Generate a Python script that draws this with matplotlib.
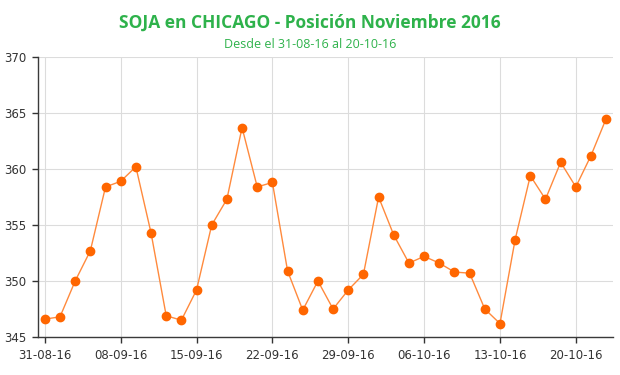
import numpy as np
import matplotlib
matplotlib.use("Agg")
import matplotlib.pyplot as plt

# trading days shown on the category axis
DATES = ["31-08-16", "01-09-16", "02-09-16", "06-09-16", "07-09-16",
         "08-09-16", "09-09-16", "12-09-16", "13-09-16", "14-09-16",
         "15-09-16", "16-09-16", "19-09-16", "20-09-16", "21-09-16",
         "22-09-16", "23-09-16", "26-09-16", "27-09-16", "28-09-16",
         "29-09-16", "30-09-16", "03-10-16", "04-10-16", "05-10-16",
         "06-10-16", "07-10-16", "10-10-16", "11-10-16", "12-10-16",
         "13-10-16", "14-10-16", "17-10-16", "18-10-16", "19-10-16",
         "20-10-16", "21-10-16", "24-10-16"]

PRICES = [346.6, 346.8, 350.0, 352.7, 358.4,
          358.9, 360.2, 354.3, 346.9, 346.5,
          349.2, 355.0, 357.3, 363.7, 358.4,
          358.8, 350.9, 347.4, 350.0, 347.5,
          349.2, 350.6, 357.5, 354.1, 351.6,
          352.2, 351.6, 350.8, 350.7, 347.5,
          346.2, 353.7, 359.4, 357.3, 360.6,
          358.4, 361.2, 364.5]

TICK_EVERY = 5
Y_TICKS = [345, 350, 355, 360, 365, 370]

TITLE = "SOJA en CHICAGO - Posición Noviembre 2016"
SUBTITLE = "Desde el 31-08-16 al 20-10-16"

GREEN = "#2eb24b"
ORANGE = "#ff6600"
LINE_ORANGE = "#ff8a3d"

fig = plt.figure(figsize=(6.2, 3.75), dpi=100)
ax = fig.add_axes([0.0613, 0.1013, 0.9274, 0.7467])

x = np.arange(len(PRICES))
ax.plot(x, PRICES, color=LINE_ORANGE, linewidth=1.0, zorder=3)
ax.plot(x, PRICES, linestyle="none", marker="o", markersize=6,
        markerfacecolor=ORANGE, markeredgecolor=ORANGE, zorder=4)

ax.set_xlim(-0.45, len(PRICES) - 0.55)
ax.set_ylim(345, 370)
ticks = x[::TICK_EVERY]
ax.set_xticks(ticks)
ax.set_xticklabels([DATES[i] for i in ticks])
ax.set_yticks(Y_TICKS)

ax.grid(True, color="#dcdcdc", linewidth=0.8)
ax.set_axisbelow(True)
for side in ("top", "right"):
    ax.spines[side].set_visible(False)
for side in ("left", "bottom"):
    ax.spines[side].set_color("#3a3a3a")
    ax.spines[side].set_linewidth(1.0)
ax.tick_params(axis="both", labelsize=8.5, colors="#333333", length=4.5,
               width=1.0, direction="out")
ax.tick_params(axis="x", pad=4)
ax.tick_params(axis="y", pad=4)

fig.text(0.5, 0.94, TITLE, ha="center", va="center", color=GREEN,
         fontsize=12.5, fontweight="bold", family="Open Sans")
fig.text(0.5, 0.882, SUBTITLE, ha="center", va="center", color=GREEN,
         fontsize=9, family="Open Sans")

fig.savefig("out.png", dpi=100)
